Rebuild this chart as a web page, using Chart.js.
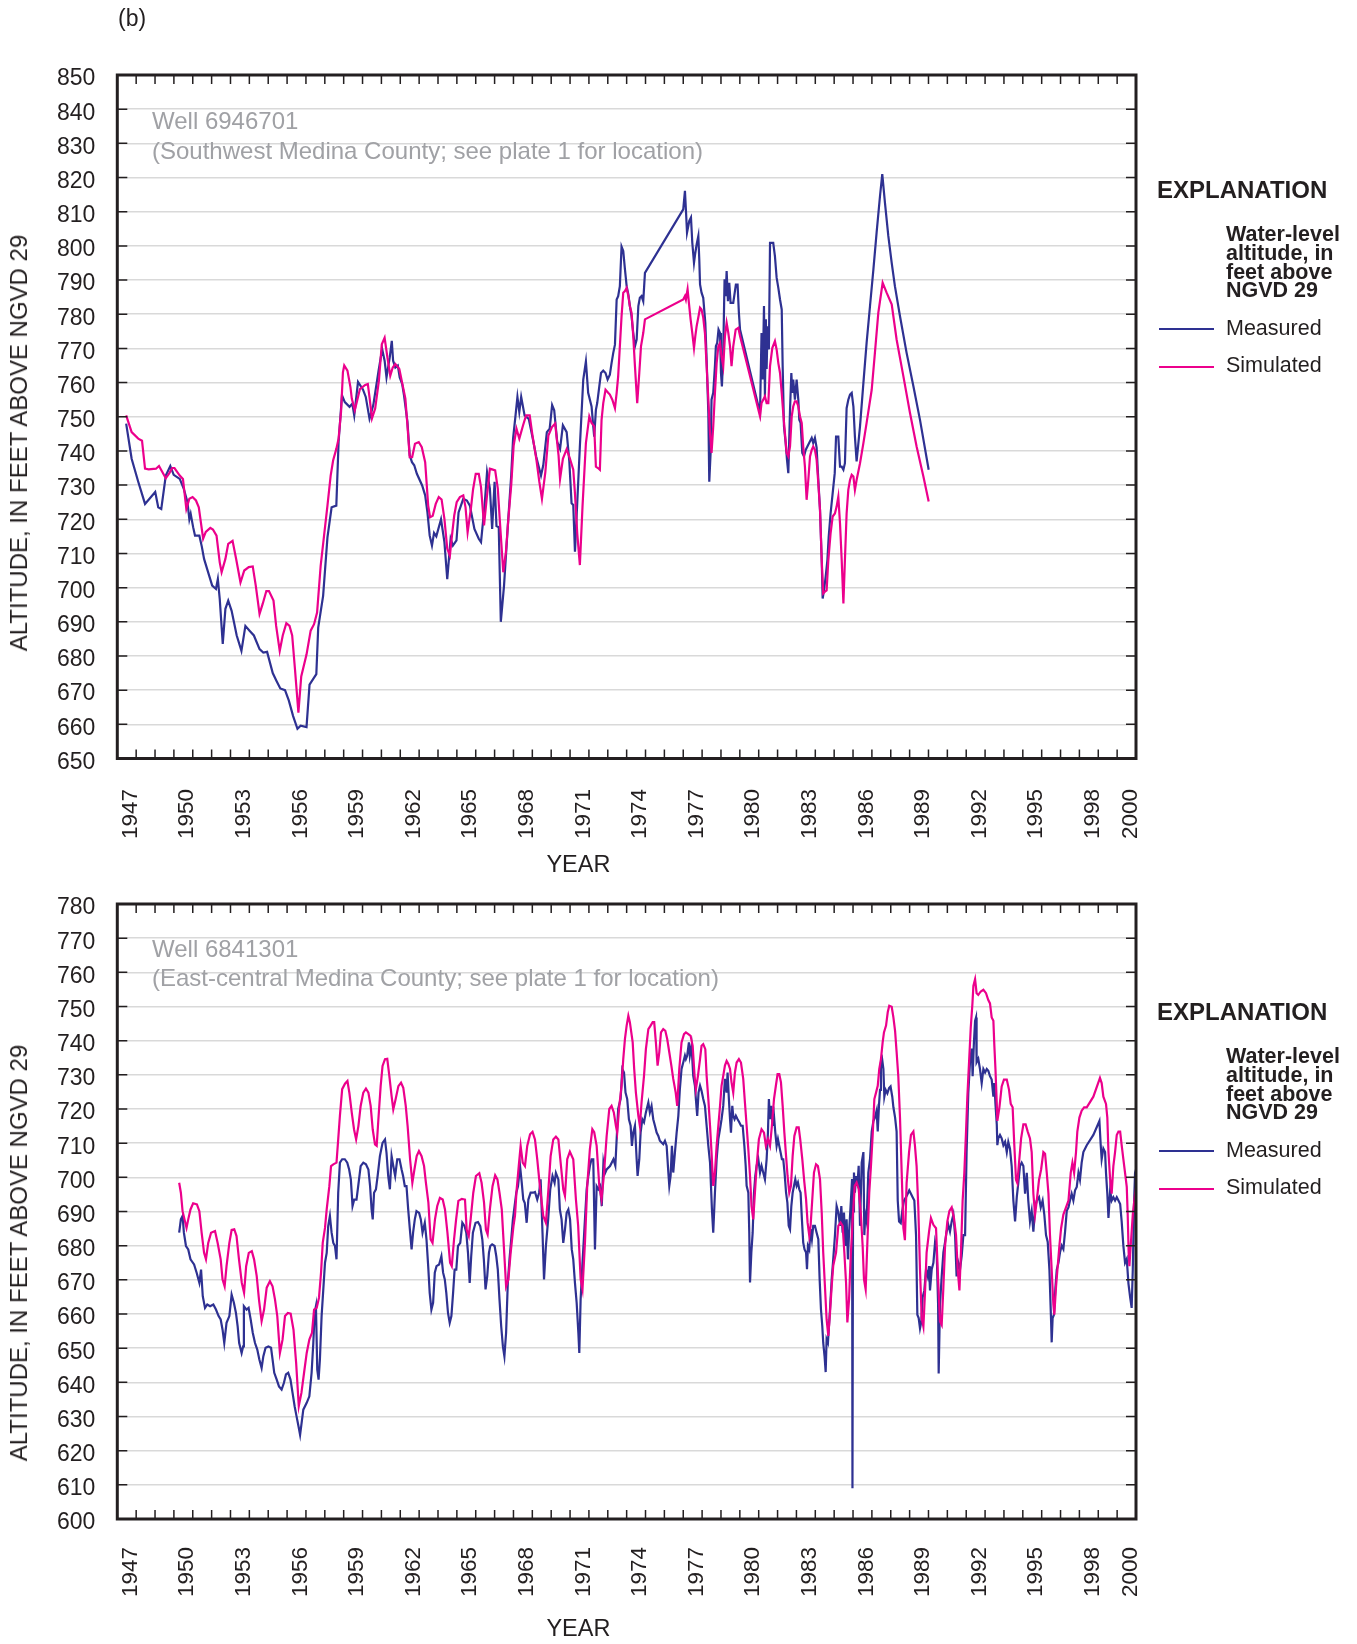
<!DOCTYPE html>
<html><head><meta charset="utf-8">
<script src="https://cdn.jsdelivr.net/npm/chart.js@4.4.1/dist/chart.umd.min.js"></script>
<style>
html,body{margin:0;padding:0;background:#fff;}
#page{position:relative;width:1357px;height:1644px;overflow:hidden;background:#fff;font-family:'Liberation Sans',Arial,Helvetica,sans-serif;}
canvas{position:absolute;left:0;}
.t{position:absolute;white-space:nowrap;color:#231f20;}
.sw{position:absolute;height:2px;}
</style></head><body><div id="page">
<canvas id="c1" width="1357" height="850" style="top:0;width:1357px;height:850px"></canvas>
<canvas id="c2" width="1357" height="794" style="top:850px;width:1357px;height:794px"></canvas>
</div>
<script>
const FONT = "'Liberation Sans', Arial, Helvetica, sans-serif";
const yearRange = [1946, 2000];
const xTickLabels = [1947,1950,1953,1956,1959,1962,1965,1968,1971,1974,1977,1980,1983,1986,1989,1992,1995,1998,2000];
const topYRange = [650, 850];
const bottomYRange = [600, 780];
const yStep = 10;

// Well 6946701 — measured water level (year, ft)
const topMeasured = [[1946.47,748],[1946.76,737.7],[1947.11,731],[1947.47,724.5],[1948.01,728],[1948.17,723.5],[1948.33,723],[1948.57,732.8],[1948.81,735.6],[1948.99,733],[1949.31,731.8],[1949.52,729],[1949.72,725],[1949.82,720],[1949.89,721.6],[1950.02,717.7],[1950.12,715.2],[1950.35,715.2],[1950.48,712],[1950.6,708.4],[1950.76,705.5],[1951.03,700.6],[1951.23,699.6],[1951.33,702.5],[1951.43,696.7],[1951.59,683.5],[1951.73,693.8],[1951.88,696.2],[1952.06,693.2],[1952.33,686],[1952.58,681.5],[1952.79,688.8],[1953.01,687.4],[1953.24,686],[1953.54,682],[1953.74,681],[1953.94,681.2],[1954.24,675],[1954.44,672.7],[1954.64,670.5],[1954.89,670],[1955.09,667],[1955.32,662.4],[1955.55,658.7],[1955.72,659.6],[1956.03,659.2],[1956.19,671.6],[1956.55,674.7],[1956.65,688.3],[1956.91,697.6],[1957.14,714.7],[1957.36,723.5],[1957.61,724],[1957.73,742.6],[1957.91,756.3],[1958.06,754.3],[1958.31,752.9],[1958.46,753.8],[1958.56,750.4],[1958.76,760.2],[1959.02,758],[1959.17,755.8],[1959.37,749.4],[1959.57,753.4],[1959.73,759.2],[1959.85,763.5],[1960.04,769.8],[1960.17,766.4],[1960.27,761.5],[1960.44,767.3],[1960.55,772.2],[1960.62,766.4],[1960.74,764.4],[1960.87,765],[1960.97,761.5],[1961.1,759.6],[1961.2,756.2],[1961.38,748.5],[1961.5,738.7],[1961.62,736.7],[1961.74,735.8],[1961.88,733.3],[1962.16,729.9],[1962.32,727],[1962.44,722],[1962.56,715.2],[1962.68,712.3],[1962.79,716],[1962.91,715],[1963.16,720],[1963.34,713.3],[1963.49,702.5],[1963.67,714.3],[1963.79,712.3],[1963.98,713.8],[1964.09,722],[1964.34,726],[1964.53,725.5],[1964.69,724],[1964.93,717.2],[1965.16,714.3],[1965.28,713.3],[1965.47,724],[1965.6,733.8],[1965.75,729],[1965.87,717.2],[1966.0,731],[1966.1,718],[1966.22,717.7],[1966.33,690],[1966.5,700.6],[1966.7,718],[1966.88,732.8],[1966.98,743.6],[1967.11,750.4],[1967.21,755.8],[1967.31,751.4],[1967.41,755.8],[1967.59,750.4],[1967.81,749.4],[1968.01,744],[1968.21,738.2],[1968.46,732.8],[1968.58,735.8],[1968.77,745.5],[1968.92,746.5],[1969.05,753.4],[1969.16,751.9],[1969.32,742.6],[1969.47,740.6],[1969.62,747.5],[1969.82,745.5],[1969.96,737],[1970.08,724.7],[1970.17,724.2],[1970.26,710.5],[1970.52,741.3],[1970.7,760.9],[1970.84,766.2],[1970.96,757],[1971.14,753],[1971.23,747.2],[1971.28,744.2],[1971.37,752],[1971.44,754],[1971.55,758.9],[1971.64,762.8],[1971.76,763.5],[1971.88,762.8],[1971.99,760.9],[1972.11,762.3],[1972.2,765.7],[1972.29,768.7],[1972.38,771.1],[1972.47,784.3],[1972.55,785.3],[1972.64,788.2],[1972.73,799.8],[1972.82,798.5],[1972.91,793.1],[1973.0,788.2],[1973.09,785.8],[1973.17,782.4],[1973.26,779.4],[1973.35,774.5],[1973.44,770.6],[1973.53,772.6],[1973.62,782.4],[1973.7,784.8],[1973.79,785.3],[1973.88,783.8],[1973.97,792.1],[1976.0,810.7],[1976.09,816.1],[1976.14,810.7],[1976.2,803.9],[1976.32,807.3],[1976.41,808.3],[1976.48,800.9],[1976.57,795],[1976.64,798],[1976.71,800.4],[1976.8,802.9],[1976.85,796],[1976.89,788.7],[1976.97,786.3],[1977.06,784.8],[1977.17,777.5],[1977.24,766.7],[1977.33,751.1],[1977.38,731],[1977.45,739.4],[1977.5,755],[1977.59,757],[1977.68,764.8],[1977.73,770.6],[1977.8,771.6],[1977.87,775.5],[1977.95,774.5],[1978.0,762.8],[1978.05,758.9],[1978.12,768.7],[1978.19,790.2],[1978.25,785.3],[1978.3,792.6],[1978.37,783.8],[1978.44,789.2],[1978.51,783.3],[1978.65,783.3],[1978.79,788.7],[1978.88,788.7],[1978.95,780.4],[1979.01,775.5],[1980.07,751.1],[1980.15,774.5],[1980.21,760.9],[1980.28,782.4],[1980.33,756],[1980.38,778.5],[1980.42,764],[1980.47,776.5],[1980.54,769.7],[1980.6,800.9],[1980.68,800.9],[1980.77,800.9],[1980.86,797],[1980.95,790.7],[1981.04,787.7],[1981.13,784.3],[1981.22,781.4],[1981.27,764.8],[1981.34,747.2],[1981.43,742.3],[1981.5,737.4],[1981.57,733.5],[1981.66,752],[1981.73,762.8],[1981.78,757],[1981.83,760.9],[1981.92,755],[1982.01,760.9],[1982.1,755],[1982.15,749.1],[1982.22,748.2],[1982.31,739.4],[1982.4,738.4],[1982.49,740.3],[1982.58,741.3],[1982.72,742.8],[1982.81,743.8],[1982.89,742.3],[1982.98,743.8],[1983.07,741],[1983.16,731.5],[1983.25,722.7],[1983.34,708],[1983.39,696.8],[1983.46,699.2],[1983.55,703.2],[1983.64,708],[1983.71,714.9],[1983.81,721.7],[1983.92,727.6],[1984.03,733.5],[1984.1,744.2],[1984.22,744.2],[1984.31,735.4],[1984.4,735.4],[1984.49,734.5],[1984.57,736.4],[1984.66,752.5],[1984.75,755],[1984.84,756.5],[1984.93,757],[1985.02,753],[1985.1,744.2],[1985.19,736.9],[1985.37,747.2],[1985.55,759.9],[1985.72,771.6],[1985.9,782.4],[1986.08,793.1],[1986.25,803.9],[1986.43,814.6],[1986.55,821],[1986.69,812.7],[1986.87,802.9],[1987.05,795],[1987.22,788.2],[1987.49,779.4],[1987.84,768.7],[1988.2,758.9],[1988.55,749.1],[1989.01,734.5]];

// Well 6946701 — simulated water level
const topSimulated = [[1946.47,750.4],[1946.76,745.5],[1947.11,743.6],[1947.31,743],[1947.47,734.8],[1947.66,734.6],[1948.05,734.8],[1948.21,735.6],[1948.57,732],[1948.76,733.5],[1948.91,735],[1949.03,735],[1949.31,732.8],[1949.48,731.8],[1949.66,723],[1949.82,726],[1949.99,726.5],[1950.17,725.5],[1950.32,723.5],[1950.55,714.3],[1950.69,716.3],[1950.93,717.5],[1951.07,717],[1951.26,715.2],[1951.43,707.4],[1951.53,704.5],[1951.73,708.4],[1951.88,712.8],[1952.11,713.7],[1952.3,708.4],[1952.53,701.5],[1952.73,705],[1952.97,706],[1953.18,706.2],[1953.34,700.6],[1953.54,692.3],[1953.71,695.3],[1953.9,699],[1954.04,699],[1954.28,696.2],[1954.42,688.8],[1954.61,681.5],[1954.77,686],[1954.96,689.6],[1955.13,688.8],[1955.27,686],[1955.42,676],[1955.6,663.4],[1955.75,674],[1956.03,680.4],[1956.25,687.4],[1956.43,689.3],[1956.59,692.7],[1956.78,706.4],[1956.96,715.2],[1957.14,724],[1957.31,732.8],[1957.44,737.2],[1957.61,740.6],[1957.73,743.6],[1957.86,751.4],[1957.96,763],[1958.03,765],[1958.2,763.5],[1958.36,758.6],[1958.43,755.3],[1958.59,751.9],[1958.76,755.8],[1958.86,758.1],[1959.14,759.3],[1959.28,759.6],[1959.37,755.7],[1959.5,749.5],[1959.67,752.4],[1959.87,760.7],[1960.02,771.2],[1960.17,773.1],[1960.32,767.3],[1960.47,762],[1960.6,764.4],[1960.74,765.4],[1960.95,764],[1961.15,758.6],[1961.27,755.3],[1961.38,747.5],[1961.5,738.2],[1961.63,738.2],[1961.78,742.1],[1961.98,742.6],[1962.14,741.1],[1962.32,736.7],[1962.48,724],[1962.58,720.6],[1962.72,721],[1962.88,724.5],[1963.04,726.5],[1963.19,725.8],[1963.34,720.1],[1963.49,711.4],[1963.63,709.4],[1963.74,715.2],[1963.86,721.1],[1963.99,725],[1964.16,726.5],[1964.34,727],[1964.46,723.5],[1964.57,716.2],[1964.74,723],[1964.86,728.8],[1965.0,733.3],[1965.16,733.3],[1965.28,729.4],[1965.44,718.2],[1965.58,726],[1965.75,734.8],[1965.87,734.6],[1966.03,734.3],[1966.17,729],[1966.3,717.7],[1966.46,704.5],[1966.6,710.4],[1966.73,720.1],[1966.88,729.9],[1967.01,741.6],[1967.16,746.5],[1967.31,743.6],[1967.51,747.5],[1967.67,750.4],[1967.86,750.4],[1968.01,744.5],[1968.21,737.7],[1968.37,731],[1968.51,726],[1968.69,733.8],[1968.85,744.5],[1969.04,747],[1969.21,748],[1969.39,738.7],[1969.47,731.8],[1969.62,737.7],[1969.82,740.5],[1969.98,738],[1970.17,734.5],[1970.26,727.6],[1970.38,715.9],[1970.52,706.6],[1970.66,723.7],[1970.84,742.3],[1971.02,750.1],[1971.14,748.2],[1971.28,747.2],[1971.37,735.4],[1971.48,735],[1971.58,734.5],[1971.67,749.1],[1971.76,754],[1971.88,757.9],[1972.02,757],[1972.11,756.5],[1972.24,755],[1972.38,752.5],[1972.47,757],[1972.55,761.8],[1972.64,770.6],[1972.73,779.4],[1972.82,786.3],[1972.91,786.8],[1973.0,787.7],[1973.09,785.3],[1973.17,782.4],[1973.26,780.4],[1973.35,773.6],[1973.44,764.8],[1973.56,754],[1973.67,762.8],[1973.76,770.6],[1973.88,774.5],[1973.97,778.5],[1976.0,784.3],[1976.09,785.3],[1976.14,784.3],[1976.23,787.3],[1976.3,783.3],[1976.39,778.5],[1976.48,774.5],[1976.57,770.1],[1976.64,773.6],[1976.71,776.5],[1976.81,779.4],[1976.89,781.9],[1976.97,781.4],[1977.06,779],[1977.15,774.5],[1977.24,764.8],[1977.33,755],[1977.42,745.2],[1977.5,739.4],[1977.59,747.2],[1977.68,757],[1977.77,765.7],[1977.86,770.6],[1977.95,771.6],[1978.03,767.7],[1978.12,764.8],[1978.21,773.6],[1978.3,777.5],[1978.39,774.5],[1978.48,770.6],[1978.56,764.8],[1978.65,770.6],[1978.78,775.5],[1978.92,776],[1979.01,773.6],[1980.07,750.1],[1980.15,754],[1980.24,755],[1980.33,756],[1980.42,754],[1980.51,754],[1980.6,764.8],[1980.72,770.1],[1980.86,772.1],[1980.95,769.7],[1981.04,765.7],[1981.13,762.8],[1981.22,757],[1981.3,751.1],[1981.39,745.2],[1981.48,739.4],[1981.57,738.4],[1981.66,741.3],[1981.75,750.1],[1981.83,753],[1981.92,754.5],[1982.01,754.5],[1982.1,753],[1982.19,750.1],[1982.28,748.2],[1982.36,741.3],[1982.45,735.4],[1982.54,725.7],[1982.63,731.5],[1982.72,738.4],[1982.81,740.3],[1982.89,741.3],[1982.98,740.3],[1983.07,737.4],[1983.16,730.6],[1983.25,722.7],[1983.34,708],[1983.42,698.3],[1983.51,698.8],[1983.6,699.2],[1983.69,708],[1983.81,715.9],[1983.92,720.8],[1984.04,721.7],[1984.13,723.7],[1984.22,726.6],[1984.31,718.8],[1984.4,708],[1984.49,695.4],[1984.57,708],[1984.66,721.7],[1984.75,728.6],[1984.84,731.5],[1984.93,733],[1985.02,732.5],[1985.1,728.6],[1985.19,731.5],[1985.37,736.4],[1985.55,742.3],[1985.72,748.2],[1985.99,757.9],[1986.16,768.7],[1986.34,780.4],[1986.57,789.2],[1986.78,786.3],[1987.05,782.9],[1987.31,772.6],[1987.67,761.8],[1988.02,751.1],[1988.37,741.3],[1988.73,732.5],[1989.01,725.2]];

// Well 6841301 — measured water level
const bottomMeasured = [[1949.28,683.8],[1949.37,687.7],[1949.46,688.7],[1949.53,683.8],[1949.64,679.9],[1949.76,678.9],[1949.88,676],[1950.07,674.5],[1950.21,672],[1950.35,669.1],[1950.44,673],[1950.53,665.2],[1950.65,661.8],[1950.77,662.8],[1950.92,662.3],[1951.09,662.8],[1951.23,661.3],[1951.37,659.4],[1951.48,658.4],[1951.58,655.4],[1951.67,651.5],[1951.79,657.4],[1951.94,659.4],[1952.06,665.7],[1952.18,663.3],[1952.29,660.3],[1952.38,656.4],[1952.46,651.5],[1952.59,648.6],[1952.67,650.5],[1952.71,662.3],[1952.85,661.3],[1952.96,661.8],[1953.07,658.4],[1953.18,654.5],[1953.3,651.5],[1953.42,649.6],[1953.53,646.7],[1953.65,644.2],[1953.74,647.6],[1953.86,650.1],[1954.01,650.5],[1954.15,650.1],[1954.23,646.7],[1954.32,642.8],[1954.45,640.8],[1954.57,638.8],[1954.71,637.9],[1954.83,639.8],[1954.94,642.3],[1955.06,642.8],[1955.18,640.8],[1955.29,636.9],[1955.4,633],[1955.5,630.1],[1955.61,627],[1955.69,624.6],[1955.86,632],[1956.04,634],[1956.18,635.9],[1956.3,642.8],[1956.39,651.5],[1956.46,660.3],[1956.53,662.3],[1956.6,643.7],[1956.67,640.8],[1956.74,646.7],[1956.83,659.4],[1956.92,667.2],[1957.01,675],[1957.1,677.9],[1957.18,685.7],[1957.27,688.7],[1957.36,683.8],[1957.45,680.8],[1957.54,679.9],[1957.62,676],[1957.71,695.5],[1957.8,704.3],[1957.92,705.3],[1958.06,705.3],[1958.19,704.3],[1958.29,702.3],[1958.38,699.4],[1958.47,691.6],[1958.56,693.5],[1958.68,693.5],[1958.77,697.4],[1958.9,703.3],[1959.04,704.3],[1959.18,703.8],[1959.31,702.3],[1959.4,697.4],[1959.48,690.6],[1959.54,687.7],[1959.61,695.5],[1959.71,696.5],[1959.8,700.4],[1959.92,706.2],[1960.06,710.1],[1960.19,711.1],[1960.27,707.2],[1960.36,700.4],[1960.45,696.5],[1960.54,706.2],[1960.63,703.3],[1960.73,700.4],[1960.84,705.3],[1960.96,705.3],[1961.07,702.3],[1961.15,700.4],[1961.24,697.4],[1961.33,697.4],[1961.42,690.6],[1961.51,684.7],[1961.6,678.9],[1961.68,683.8],[1961.77,687.7],[1961.86,690.1],[1962.0,689.6],[1962.09,687.7],[1962.18,683.8],[1962.3,686.7],[1962.39,681.8],[1962.48,674],[1962.56,666.2],[1962.65,661.3],[1962.74,663.3],[1962.83,672.1],[1962.92,674],[1963.06,674.5],[1963.18,676.9],[1963.27,672.1],[1963.36,670.1],[1963.44,666.2],[1963.53,660.3],[1963.62,657.4],[1963.71,659.4],[1963.8,666.2],[1963.88,673],[1963.97,673],[1964.06,679.9],[1964.18,680.8],[1964.29,686.7],[1964.41,685.7],[1964.5,683.8],[1964.59,677.9],[1964.68,669.1],[1964.76,676.9],[1964.85,683.8],[1964.99,686.7],[1965.12,686.9],[1965.24,685.7],[1965.35,681.8],[1965.43,676],[1965.52,667.2],[1965.61,671.1],[1965.7,677.9],[1965.77,679.9],[1965.87,680.4],[1966.0,679.9],[1966.09,676.9],[1966.17,673],[1966.26,664.2],[1966.35,656.4],[1966.44,650.5],[1966.52,647.6],[1966.61,654.5],[1966.7,669.1],[1966.79,676],[1966.88,681.8],[1966.97,687.7],[1967.06,691.6],[1967.15,695.5],[1967.24,697.4],[1967.35,703.3],[1967.44,698.4],[1967.52,693.5],[1967.6,692.5],[1967.7,686.7],[1967.79,693.5],[1967.91,695.5],[1968.05,695.5],[1968.14,695.7],[1968.26,693.5],[1968.36,695.5],[1968.44,699.4],[1968.54,683.8],[1968.62,670.1],[1968.72,679.9],[1968.84,687.7],[1968.95,696.5],[1969.07,700.4],[1969.18,698.4],[1969.25,701.3],[1969.38,699.4],[1969.46,690.6],[1969.55,687.7],[1969.64,680.8],[1969.73,684.7],[1969.82,689.6],[1969.91,690.6],[1970.0,687.7],[1970.09,678.9],[1970.17,676],[1970.26,669.1],[1970.35,663.3],[1970.44,654.5],[1970.49,648.6],[1970.56,664.2],[1970.65,674],[1970.74,682.8],[1970.88,696.5],[1970.97,700.4],[1971.05,703.3],[1971.14,705.3],[1971.23,705.3],[1971.32,678.9],[1971.41,697.4],[1971.5,696.5],[1971.59,697.4],[1971.68,691.6],[1971.77,704.3],[1971.86,701.3],[1971.94,702.3],[1972.12,703.3],[1972.3,705.3],[1972.4,703.4],[1972.55,720],[1972.68,722.9],[1972.77,731.7],[1972.86,730.7],[1972.94,724.8],[1973.03,722.9],[1973.12,717],[1973.21,715.1],[1973.28,709.2],[1973.35,713.1],[1973.44,715.1],[1973.53,705.3],[1973.58,700.4],[1973.67,705.3],[1973.74,713.1],[1973.83,717],[1973.92,716.1],[1974.02,719],[1974.15,721.9],[1974.23,719],[1974.32,720.9],[1974.41,717],[1974.5,715.1],[1974.59,713.1],[1974.68,712.1],[1974.76,710.7],[1974.85,710.2],[1974.94,709.7],[1975.03,710.7],[1975.12,709.2],[1975.21,701.4],[1975.26,697.5],[1975.33,700.4],[1975.4,709.2],[1975.47,701.4],[1975.56,707.3],[1975.65,713.1],[1975.74,718],[1975.82,725.8],[1975.91,731.7],[1976.0,733.6],[1976.09,735.6],[1976.14,734.6],[1976.21,735.6],[1976.3,739.5],[1976.35,735.6],[1976.44,738.5],[1976.53,729.7],[1976.62,726.8],[1976.67,722.9],[1976.74,718],[1976.81,724.8],[1976.89,726.8],[1976.97,725.3],[1977.06,722.9],[1977.15,720.9],[1977.24,715.1],[1977.33,709.2],[1977.42,704.3],[1977.47,697.5],[1977.52,690.7],[1977.59,683.8],[1977.68,695.5],[1977.77,705.3],[1977.86,711.2],[1977.95,714.1],[1978.03,717],[1978.12,720.9],[1978.21,728.8],[1978.3,724.8],[1978.35,730.7],[1978.42,722.9],[1978.48,717],[1978.53,713.1],[1978.6,720.9],[1978.65,718],[1978.72,717],[1978.79,718],[1978.88,717],[1978.97,716.1],[1979.06,715.1],[1979.15,715.1],[1979.24,709.2],[1979.31,703.4],[1979.36,697.5],[1979.45,695.5],[1979.5,683.8],[1979.54,669.2],[1979.61,678],[1979.68,683.8],[1979.75,695.5],[1979.82,700.4],[1979.89,703.4],[1979.98,705.3],[1980.07,701.4],[1980.15,703.4],[1980.24,701.4],[1980.33,699.4],[1980.42,705.3],[1980.49,713.1],[1980.54,722.9],[1980.6,717],[1980.67,720.9],[1980.74,715.1],[1980.81,718],[1980.88,713.1],[1980.95,709.2],[1981.02,711.2],[1981.09,709.2],[1981.16,707.3],[1981.23,705.3],[1981.3,705.3],[1981.37,701.4],[1981.45,695.5],[1981.52,692.6],[1981.59,685.8],[1981.66,684.8],[1981.73,691.6],[1981.8,695.5],[1981.87,697.5],[1981.94,699.4],[1982.01,697.5],[1982.08,698.5],[1982.15,696.5],[1982.22,695.5],[1982.29,687.7],[1982.36,680.9],[1982.43,678.9],[1982.51,678],[1982.56,673.1],[1982.61,679.9],[1982.68,678.9],[1982.75,684.8],[1982.82,681.9],[1982.89,685.8],[1982.98,685.8],[1983.07,683.8],[1983.16,681.9],[1983.23,670.2],[1983.3,661.4],[1983.37,656.5],[1983.42,651.6],[1983.49,647.7],[1983.55,643],[1983.6,652.6],[1983.67,651.6],[1983.78,661.4],[1983.87,670.2],[1983.95,676],[1984.04,682.9],[1984.13,691.6],[1984.22,689.7],[1984.31,685.8],[1984.38,691.6],[1984.45,683.8],[1984.52,689.7],[1984.59,679.9],[1984.66,687.7],[1984.73,676],[1984.79,683.8],[1984.84,688.7],[1984.91,695.5],[1984.95,699.5],[1984.97,609],[1985.0,690],[1985.05,701.4],[1985.1,695.5],[1985.16,700.4],[1985.23,697.5],[1985.3,703.4],[1985.37,685.8],[1985.46,704.3],[1985.55,707.4],[1985.6,683.1],[1985.65,689.1],[1985.72,687.1],[1985.81,701.3],[1985.9,705.3],[1985.99,713.4],[1986.08,716.5],[1986.16,717.5],[1986.25,719.5],[1986.31,713.4],[1986.38,721.5],[1986.43,725.6],[1986.48,733.7],[1986.54,734.7],[1986.61,731.7],[1986.66,723.6],[1986.73,725.6],[1986.82,724.6],[1986.91,726.1],[1986.99,726.6],[1987.08,723.6],[1987.14,720.5],[1987.23,717.5],[1987.31,713.4],[1987.37,693.2],[1987.44,687.1],[1987.53,686.6],[1987.61,690.2],[1987.7,693.2],[1987.81,694.2],[1987.9,695.2],[1987.98,696.2],[1988.07,695.2],[1988.16,694.2],[1988.25,693.2],[1988.34,683.1],[1988.41,659.8],[1988.48,658.8],[1988.55,655.8],[1988.62,657.8],[1988.69,664.9],[1988.78,666.9],[1988.87,673],[1988.96,671],[1989.03,674],[1989.08,666.9],[1989.17,673],[1989.26,675],[1989.35,681.1],[1989.43,679],[1989.51,662.8],[1989.54,642.6],[1989.61,662.8],[1989.7,671],[1989.79,678],[1989.88,681.1],[1989.96,684.1],[1990.05,686.1],[1990.14,684.1],[1990.23,687.1],[1990.32,689.1],[1990.41,683.1],[1990.49,671],[1990.58,675],[1990.67,673],[1990.76,677],[1990.85,683.1],[1990.94,683.1],[1991.02,707.4],[1991.11,724.6],[1991.2,733.7],[1991.29,737.7],[1991.34,729.6],[1991.41,739.7],[1991.47,745.8],[1991.52,746.8],[1991.55,733.7],[1991.64,734.7],[1991.73,731.7],[1991.82,727.6],[1991.91,731.7],[1992.0,730.7],[1992.09,731.7],[1992.17,731.2],[1992.26,729.6],[1992.35,728.6],[1992.44,723.6],[1992.49,727.6],[1992.55,721.5],[1992.62,715.5],[1992.65,709.4],[1992.7,711.4],[1992.79,712.4],[1992.88,711.4],[1992.97,709.4],[1993.06,710.4],[1993.15,707.4],[1993.23,710.4],[1993.32,708.4],[1993.41,703.3],[1993.5,693.2],[1993.59,687.1],[1993.68,694.2],[1993.76,698.3],[1993.85,703.3],[1993.94,704.3],[1994.03,703.3],[1994.12,695.2],[1994.21,701.3],[1994.29,693.2],[1994.38,687.1],[1994.47,690.2],[1994.56,684.1],[1994.65,691.2],[1994.74,693.2],[1994.86,694.2],[1994.95,691.2],[1995.05,693.2],[1995.14,689.1],[1995.23,683.1],[1995.32,681.1],[1995.41,673],[1995.5,657.8],[1995.53,651.7],[1995.58,658.8],[1995.65,659.8],[1995.73,667.9],[1995.8,673],[1995.89,675],[1995.97,678],[1996.06,680],[1996.15,679],[1996.24,684.1],[1996.33,690.2],[1996.42,691.2],[1996.5,693.2],[1996.59,695.2],[1996.68,693.2],[1996.77,696.2],[1996.86,697.2],[1996.95,701.3],[1997.03,699.3],[1997.12,704.3],[1997.21,707.4],[1997.39,709.4],[1997.74,712.4],[1998.06,716.5],[1998.13,709.4],[1998.18,705.3],[1998.27,708.4],[1998.36,707.4],[1998.41,701.3],[1998.48,695.2],[1998.54,688.1],[1998.63,696.2],[1998.71,693.2],[1998.8,694.2],[1998.89,693.2],[1998.98,694.2],[1999.07,693.2],[1999.16,692.2],[1999.24,687.1],[1999.33,680],[1999.42,675],[1999.51,676.1],[1999.6,668.9],[1999.69,664.9],[1999.77,661.8],[1999.83,673],[1999.9,693.2],[1999.95,701.3],[2000.0,702.3]];

// Well 6841301 — simulated water level
const bottomSimulated = [[1949.28,698.4],[1949.37,695.5],[1949.46,690.1],[1949.67,685.2],[1949.76,687.7],[1949.88,690.6],[1950.02,692.4],[1950.22,692.1],[1950.35,690.1],[1950.47,683.8],[1950.6,677.9],[1950.7,676],[1950.82,680.8],[1950.97,683.8],[1951.18,684.3],[1951.32,680.8],[1951.48,676],[1951.58,670.1],[1951.69,668.1],[1951.79,674],[1951.94,680.8],[1952.06,684.6],[1952.2,684.8],[1952.32,682.8],[1952.45,676],[1952.6,669.1],[1952.72,666.2],[1952.83,674],[1952.97,677.9],[1953.13,678.4],[1953.25,676],[1953.39,671.1],[1953.51,664.2],[1953.65,657.9],[1953.78,661.3],[1953.92,667.7],[1954.09,669.6],[1954.23,668.1],[1954.36,664.2],[1954.48,659.4],[1954.62,648.6],[1954.76,652.5],[1954.89,659.4],[1955.04,660.3],[1955.19,660.1],[1955.34,655.4],[1955.48,645.7],[1955.62,633],[1955.76,636.9],[1955.9,642.8],[1956.04,648.6],[1956.18,652.5],[1956.32,654.5],[1956.43,661.3],[1956.57,661.8],[1956.69,664.7],[1956.8,672.1],[1956.89,680.8],[1957.01,685.2],[1957.1,690.6],[1957.24,697.4],[1957.33,703.3],[1957.45,703.8],[1957.62,704.3],[1957.71,711.1],[1957.8,718],[1957.92,725.8],[1958.07,727.4],[1958.2,728.2],[1958.3,724.8],[1958.43,718.9],[1958.55,714],[1958.66,711.1],[1958.78,715],[1958.9,720.9],[1959.04,724.8],[1959.18,726],[1959.31,724.8],[1959.43,720.9],[1959.54,714],[1959.66,709.6],[1959.75,709.2],[1959.84,717],[1959.96,726.7],[1960.06,732.6],[1960.19,734.6],[1960.31,734.7],[1960.42,729.7],[1960.54,723.8],[1960.63,719.9],[1960.75,722.8],[1960.9,726.7],[1961.04,727.7],[1961.16,726.2],[1961.29,720.9],[1961.39,715],[1961.52,705.3],[1961.64,698.4],[1961.75,702.3],[1961.87,706.2],[1961.99,707.7],[1962.13,706.2],[1962.26,703.3],[1962.36,698.4],[1962.49,692.6],[1962.61,681.8],[1962.71,680.8],[1962.84,687.7],[1962.96,691.6],[1963.1,694],[1963.25,693.5],[1963.37,690.6],[1963.5,683.8],[1963.64,675],[1963.73,674],[1963.85,681.8],[1963.96,687.7],[1964.08,693.1],[1964.26,693.7],[1964.43,693.5],[1964.52,684.7],[1964.63,682.8],[1964.73,687.7],[1964.87,695.5],[1965.01,700.4],[1965.19,701.2],[1965.31,698.4],[1965.44,692.6],[1965.54,684.7],[1965.63,683.3],[1965.75,690.6],[1965.89,697.4],[1966.03,700.6],[1966.15,699.4],[1966.26,695.5],[1966.38,690.6],[1966.5,678.9],[1966.61,668.1],[1966.73,670.1],[1966.85,677.9],[1967.0,685.7],[1967.08,688.7],[1967.17,696.5],[1967.28,703.3],[1967.38,709.2],[1967.49,704.3],[1967.61,703.3],[1967.73,709.2],[1967.88,712.6],[1968.01,713.3],[1968.14,711.1],[1968.26,705.3],[1968.4,697.4],[1968.58,688.7],[1968.72,686.7],[1968.84,695.5],[1968.97,706.2],[1969.11,711.1],[1969.25,711.9],[1969.38,711.1],[1969.64,696.5],[1969.73,694.6],[1969.85,705.3],[1969.99,707.5],[1970.17,705.3],[1970.31,693.6],[1970.43,685.8],[1970.56,670.2],[1970.66,667.2],[1970.79,680.9],[1970.91,697.5],[1971.05,708.2],[1971.18,714.1],[1971.28,713.2],[1971.41,709.2],[1971.55,697.5],[1971.67,693.6],[1971.79,700.4],[1971.94,712.1],[1972.08,720],[1972.2,720.9],[1972.32,719],[1972.43,715.1],[1972.5,713.1],[1972.61,720.9],[1972.73,726.8],[1972.82,734.6],[1972.91,740.5],[1973.0,744.4],[1973.09,747.3],[1973.17,745.4],[1973.32,739.5],[1973.4,731.7],[1973.49,724.8],[1973.62,718],[1973.7,715.1],[1973.79,721.9],[1973.92,729.7],[1974.02,737.5],[1974.15,743.4],[1974.27,744.4],[1974.38,745.4],[1974.46,745.4],[1974.55,739.5],[1974.64,732.7],[1974.73,736.6],[1974.82,742.4],[1974.94,743.4],[1975.05,742.9],[1975.15,740.5],[1975.26,736.6],[1975.37,732.7],[1975.47,728.8],[1975.6,724.8],[1975.68,720.9],[1975.79,731.7],[1975.91,739.5],[1976.04,741.9],[1976.14,742.4],[1976.27,741.9],[1976.39,741.4],[1976.5,738.5],[1976.6,729.7],[1976.67,725.8],[1976.78,729.7],[1976.89,734.6],[1976.97,738.5],[1977.06,739],[1977.17,737.5],[1977.24,729.7],[1977.33,722.9],[1977.42,715.1],[1977.5,707.3],[1977.59,697.5],[1977.68,701.4],[1977.77,709.2],[1977.86,715.1],[1977.95,720.9],[1978.03,726.8],[1978.12,729.7],[1978.21,732.7],[1978.3,734.1],[1978.39,733.2],[1978.48,731.7],[1978.56,727.8],[1978.65,724.8],[1978.74,730.7],[1978.83,733.6],[1978.95,734.6],[1979.06,733.6],[1979.18,728.8],[1979.27,721.9],[1979.36,715.1],[1979.45,708.2],[1979.54,700.4],[1979.62,691.6],[1979.71,687.7],[1979.8,695.5],[1979.89,703.3],[1980.01,711.2],[1980.15,714.1],[1980.28,713.1],[1980.38,709.2],[1980.49,711.2],[1980.6,709.2],[1980.7,715.1],[1980.81,722.9],[1980.91,726.8],[1981.0,730.2],[1981.09,730.2],[1981.18,727.8],[1981.27,720.9],[1981.36,713.1],[1981.45,706.3],[1981.53,700.4],[1981.62,695.5],[1981.71,697.5],[1981.8,706.3],[1981.89,712.1],[1982.01,714.6],[1982.12,714.6],[1982.2,711.2],[1982.31,705.3],[1982.42,698.5],[1982.51,693.6],[1982.59,686.8],[1982.68,682.9],[1982.75,685.8],[1982.84,693.6],[1982.93,701.4],[1983.04,703.8],[1983.14,703.3],[1983.25,699.4],[1983.34,689.7],[1983.42,678],[1983.51,668.2],[1983.6,658.4],[1983.69,653.6],[1983.78,660.4],[1983.87,668.2],[1983.95,674.1],[1984.1,678],[1984.22,685.8],[1984.34,686.8],[1984.45,685.8],[1984.54,678],[1984.63,669.2],[1984.7,657.5],[1984.79,664.3],[1984.87,676],[1984.98,687.7],[1985.09,697.5],[1985.19,698.5],[1985.3,696.5],[1985.41,689.7],[1985.51,679.9],[1985.58,670.2],[1985.67,667.2],[1985.76,680.9],[1985.86,695.5],[1985.95,703.3],[1986.04,712.1],[1986.13,722.9],[1986.22,724.8],[1986.31,726.8],[1986.39,731.7],[1986.48,734.6],[1986.57,739.5],[1986.64,742.4],[1986.75,744.4],[1986.84,748.3],[1986.92,750.2],[1987.05,749.9],[1987.14,746.8],[1987.23,742.8],[1987.31,736.7],[1987.4,729.6],[1987.49,717.5],[1987.58,701.3],[1987.67,685.1],[1987.75,681.6],[1987.84,698.3],[1987.97,707.4],[1988.07,712.4],[1988.2,713.4],[1988.28,709.4],[1988.37,703.3],[1988.46,691.2],[1988.55,673],[1988.64,658.8],[1988.73,656.3],[1988.82,666.9],[1988.9,678],[1989.03,684.1],[1989.13,688.1],[1989.26,686.1],[1989.4,685.1],[1989.52,668.9],[1989.61,657.8],[1989.7,656.8],[1989.79,667.9],[1989.88,680],[1990.0,687.1],[1990.11,690.2],[1990.23,691.2],[1990.35,688.1],[1990.46,683.1],[1990.55,673],[1990.64,666.9],[1990.72,678],[1990.81,693.2],[1990.9,701.3],[1990.99,713.4],[1991.06,723.6],[1991.15,733.7],[1991.24,743.8],[1991.33,750.9],[1991.38,756],[1991.47,758],[1991.55,753.9],[1991.64,753.4],[1991.77,754.4],[1991.91,754.9],[1992.05,753.9],[1992.17,751.9],[1992.26,750.9],[1992.35,746.8],[1992.44,745.8],[1992.49,738.7],[1992.55,731.7],[1992.62,721.5],[1992.65,716.5],[1992.76,720.5],[1992.88,726.6],[1993.0,728.6],[1993.15,728.6],[1993.27,725.6],[1993.36,721.5],[1993.46,720.5],[1993.55,709.4],[1993.64,699.3],[1993.71,698.3],[1993.8,704.3],[1993.91,711.4],[1994.03,715.5],[1994.15,715.5],[1994.26,713.4],[1994.38,711.4],[1994.47,707.4],[1994.56,695.2],[1994.65,689.1],[1994.74,693.2],[1994.86,699.3],[1994.97,702.3],[1995.09,707.4],[1995.18,706.9],[1995.27,701.3],[1995.36,695.2],[1995.44,683.1],[1995.53,673],[1995.62,662.8],[1995.67,659.8],[1995.76,667.9],[1995.85,674],[1995.94,680],[1996.03,685.1],[1996.15,689.1],[1996.29,691.2],[1996.42,693.2],[1996.54,701.3],[1996.63,704.3],[1996.72,701.3],[1996.82,707.4],[1996.89,713.4],[1997.0,717.5],[1997.12,719.5],[1997.25,720.5],[1997.39,720.5],[1997.74,723.6],[1998.09,729.1],[1998.18,727.6],[1998.27,723.6],[1998.41,721.5],[1998.48,717.5],[1998.54,707.4],[1998.63,699.3],[1998.71,695.2],[1998.8,703.3],[1998.89,707.4],[1998.98,712.4],[1999.07,713.4],[1999.16,713.4],[1999.24,709.4],[1999.33,705.3],[1999.42,701.3],[1999.51,697.2],[1999.56,689.1],[1999.61,678],[1999.65,674],[1999.72,680],[1999.83,689.1],[1999.95,695.2],[2000.04,698.3]];

const COLOR_MEAS = '#2e3192';
const COLOR_SIM = '#ec008c';
const INK = '#231f20';

function toXY(arr){ return arr.map(p => ({x:p[0], y:p[1]})); }

function framePlugin(labelTop){
  return {
    id:'frame',
    afterDraw(chart){
      const {ctx, chartArea:a, scales:{x, y}} = chart;
      ctx.save();
      ctx.strokeStyle = INK; ctx.lineWidth = 1.5;
      ctx.beginPath();
      for (let yr = yearRange[0] + 1; yr < yearRange[1]; yr++){
        const px = x.getPixelForValue(yr);
        ctx.moveTo(px, a.bottom); ctx.lineTo(px, a.bottom - 9);
        ctx.moveTo(px, a.top); ctx.lineTo(px, a.top + 9);
      }
      for (let v = y.min + yStep; v < y.max; v += yStep){
        const py = y.getPixelForValue(v);
        ctx.moveTo(a.left, py); ctx.lineTo(a.left + 10, py);
        ctx.moveTo(a.right, py); ctx.lineTo(a.right - 10, py);
      }
      ctx.stroke();
      ctx.lineWidth = 3;
      ctx.strokeRect(a.left, a.top, a.right - a.left, a.bottom - a.top);
      ctx.fillStyle = INK;
      ctx.font = '22.5px ' + FONT;
      ctx.textAlign = 'right'; ctx.textBaseline = 'alphabetic';
      for (const lbl of xTickLabels){
        const px = x.getPixelForValue(lbl);
        ctx.save();
        ctx.translate(px + 0.7, labelTop);
        ctx.rotate(-Math.PI/2);
        ctx.fillText(String(lbl), 0, 0);
        ctx.restore();
      }
      ctx.restore();
    }
  };
}

function makeChart(id, measured, simulated, yr, area, labelTop){
  const cv = document.getElementById(id);
  const W = cv.width, H = cv.height;
  return new Chart(cv, {
    type:'line',
    data:{datasets:[
      {data:toXY(simulated), borderColor:COLOR_SIM, borderWidth:2.2, pointRadius:0, tension:0, fill:false, order:1},
      {data:toXY(measured), borderColor:COLOR_MEAS, borderWidth:2.2, pointRadius:0, tension:0, fill:false, order:2}
    ]},
    options:{
      responsive:false, animation:false, devicePixelRatio:1, events:[],
      layout:{padding:{left:0, top:area.top, right:W - area.right, bottom:0}},
      plugins:{legend:{display:false}, tooltip:{enabled:false}, title:{display:false}},
      scales:{
        x:{type:'linear', min:yearRange[0], max:yearRange[1],
           ticks:{display:false}, grid:{display:false}, border:{display:false},
           afterFit(s){ s.height = H - area.bottom; }},
        y:{type:'linear', min:yr[0], max:yr[1],
           ticks:{stepSize:yStep, autoSkip:false, color:INK, padding:22, labelOffset:4, font:{family:FONT, size:23}},
           grid:{color:'#d9d9d9', lineWidth:1.5, drawTicks:false}, border:{display:false},
           afterFit(s){ s.width = area.left; }}
      }
    },
    plugins:[framePlugin(labelTop)]
  });
}

makeChart('c1', topMeasured, topSimulated, topYRange, {left:117.3, right:1136, top:75, bottom:758.5}, 789);
makeChart('c2', bottomMeasured, bottomSimulated, bottomYRange, {left:117.3, right:1136, top:54, bottom:669}, 697);

const page = document.getElementById('page');
function addText(txt, x, baseline, size, opt){
  opt = opt || {};
  const d = document.createElement('div'); d.className = 't'; d.textContent = txt;
  d.style.fontSize = size + 'px'; d.style.lineHeight = size + 'px';
  d.style.left = x + 'px'; d.style.top = (baseline - 0.8465*size) + 'px';
  if (opt.weight) d.style.fontWeight = opt.weight;
  if (opt.color) d.style.color = opt.color;
  if (opt.center) d.style.transform = 'translateX(-50%)';
  page.appendChild(d);
}
function addRotated(txt, cx, cy, size){
  const d = document.createElement('div'); d.className = 't'; d.textContent = txt;
  d.style.fontSize = size + 'px'; d.style.lineHeight = size + 'px';
  d.style.left = cx + 'px'; d.style.top = cy + 'px';
  d.style.transform = 'translate(-50%,-50%) rotate(-90deg)';
  page.appendChild(d);
}
function addSwatch(x1, x2, y, color){
  const d = document.createElement('div'); d.className = 'sw';
  d.style.left = x1 + 'px'; d.style.width = (x2 - x1) + 'px'; d.style.top = (y - 1) + 'px';
  d.style.background = color; page.appendChild(d);
}

const GRAY = '#a0a1a5';
addText('(b)', 118, 26, 23);
addText('Well 6946701', 152, 129.5, 24, {color:GRAY});
addText('(Southwest Medina County; see plate 1 for location)', 152, 159, 24, {color:GRAY});
addText('Well 6841301', 152, 957, 24, {color:GRAY});
addText('(East-central Medina County; see plate 1 for location)', 152, 986, 24, {color:GRAY});
addText('YEAR', 578.4, 872.5, 23.5, {center:true});
addText('YEAR', 578.4, 1637, 23.5, {center:true});
addRotated('ALTITUDE, IN FEET ABOVE NGVD 29', 19.4, 442.6, 24);
addRotated('ALTITUDE, IN FEET ABOVE NGVD 29', 19.4, 1253.2, 24);

function legend(dy){
  addText('EXPLANATION', 1157, 198.5 + dy, 24, {weight:'bold'});
  addText('Water-level', 1226, 241.7 + dy, 21.5, {weight:'bold'});
  addText('altitude, in', 1226, 261 + dy, 21.5, {weight:'bold'});
  addText('feet above', 1226, 280 + dy, 21.5, {weight:'bold'});
  addText('NGVD 29', 1226, 298.3 + dy, 21.5, {weight:'bold'});
  addSwatch(1159, 1214, 329.3 + dy, COLOR_MEAS);
  addText('Measured', 1226, 336 + dy, 21.5);
  addSwatch(1159, 1214, 366.7 + dy, COLOR_SIM);
  addText('Simulated', 1226, 372.7 + dy, 21.5);
}
legend(0);
legend(822);
</script>
</body></html>
